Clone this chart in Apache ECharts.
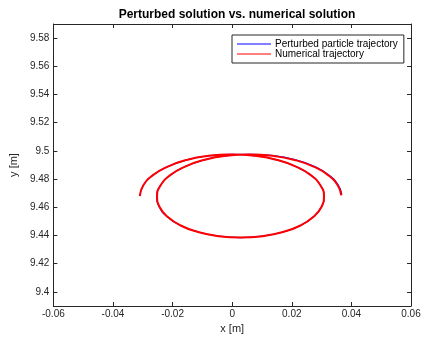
<!DOCTYPE html>
<html>
<head>
<meta charset="utf-8">
<script src="https://cdn.jsdelivr.net/npm/echarts@6/dist/echarts.min.js"></script>
<style>html,body{margin:0;padding:0;background:#fff;}#c{width:424px;height:341px;}</style>
</head>
<body>
<div id="c"></div>
<script>
var titleText = 'Perturbed solution vs. numerical solution';
var seriesNames = ['Perturbed particle trajectory', 'Numerical trajectory'];
var xTicks = [-0.06, -0.04, -0.02, 0, 0.02, 0.04, 0.06];
var yTicks = [9.4, 9.42, 9.44, 9.46, 9.48, 9.5, 9.52, 9.54, 9.56, 9.58];

// Numerical trajectory
var numX = [-0.0310, -0.0298, -0.0266, -0.0216, -0.0153, -0.0080, -0.0001, 0.0078, 0.0151, 0.0214, 0.0264, 0.0296, 0.0308,
            0.0300, 0.0273, 0.0229, 0.0171, 0.0102, 0.0028, -0.0046, -0.0115, -0.0173, -0.0217, -0.0244, -0.0252,
            -0.0240, -0.0208, -0.0158, -0.0095, -0.0022, 0.0057, 0.0136, 0.0209, 0.0273, 0.0322, 0.0354, 0.0366];
var numY = [9.4680, 9.4756, 9.4828, 9.4889, 9.4936, 9.4965, 9.4975, 9.4965, 9.4936, 9.4889, 9.4828, 9.4756, 9.4680,
            9.4604, 9.4533, 9.4471, 9.4425, 9.4395, 9.4385, 9.4395, 9.4425, 9.4471, 9.4533, 9.4604, 9.4680,
            9.4756, 9.4828, 9.4889, 9.4936, 9.4965, 9.4975, 9.4965, 9.4936, 9.4889, 9.4828, 9.4756, 9.4685];
// Perturbed solution (nearly identical)
var pertX = [-0.0310, -0.0298, -0.0266, -0.0216, -0.0153, -0.0080, -0.0001, 0.0078, 0.0151, 0.0214, 0.0264, 0.0296, 0.0308,
             0.0300, 0.0273, 0.0229, 0.0171, 0.0102, 0.0028, -0.0046, -0.0115, -0.0173, -0.0218, -0.0245, -0.0253,
             -0.0241, -0.0208, -0.0158, -0.0095, -0.0022, 0.0057, 0.0137, 0.0210, 0.0275, 0.0324, 0.0356, 0.0368];
var pertY = [9.4680, 9.4756, 9.4828, 9.4889, 9.4936, 9.4965, 9.4975, 9.4965, 9.4936, 9.4889, 9.4828, 9.4756, 9.4680,
             9.4604, 9.4533, 9.4471, 9.4425, 9.4395, 9.4385, 9.4395, 9.4425, 9.4471, 9.4533, 9.4604, 9.4680,
             9.4756, 9.4828, 9.4889, 9.4936, 9.4965, 9.4975, 9.4966, 9.4938, 9.4891, 9.4830, 9.4758, 9.4690];

function zip(a, b) { return a.map(function (v, i) { return [v, b[i]]; }); }
var axisColor = '#262626';
var font = 'Liberation Sans, Arial, Helvetica, sans-serif';
function fmt(v) { return String(parseFloat(Number(v).toFixed(4))); }

var chart = echarts.init(document.getElementById('c'), null, { renderer: 'canvas' });
var baseX = {
  type: 'value', min: -0.06, max: 0.06, interval: 0.02,
  axisLine: { show: true, onZero: false, lineStyle: { color: axisColor, width: 1 } },
  axisTick: { show: true, inside: true, length: 4, lineStyle: { color: axisColor } },
  splitLine: { show: false }
};
var baseY = {
  type: 'value', min: 9.39, max: 9.59,
  axisLine: { show: true, onZero: false, lineStyle: { color: axisColor, width: 1 } },
  axisTick: { show: true, inside: true, length: 4, customValues: yTicks, lineStyle: { color: axisColor } },
  splitLine: { show: false }
};
chart.setOption({
  animation: false,
  backgroundColor: '#fff',
  title: {
    text: titleText, left: 232, textAlign: 'center', top: 4,
    textStyle: { fontFamily: font, fontSize: 12, fontWeight: 'bold', color: '#000' }
  },
  legend: {
    orient: 'vertical', left: 232, top: 35,
    padding: [4, 6, 4, 5], itemGap: 0, itemWidth: 34, itemHeight: 10,
    borderColor: axisColor, borderWidth: 1, backgroundColor: '#fff',
    textStyle: { fontFamily: font, fontSize: 10, color: '#000', padding: [0, 0, 0, -1] },
    data: [
      { name: seriesNames[0], icon: 'path://M0,0L34,0L34,1L0,1Z', itemStyle: { color: '#0000ff' } },
      { name: seriesNames[1], icon: 'path://M0,0L34,0L34,1L0,1Z', itemStyle: { color: '#ff0000' } }
    ]
  },
  grid: { left: 53, right: 13, top: 24, bottom: 35, containLabel: false },
  xAxis: [
    Object.assign({}, baseX, {
      position: 'bottom', name: 'x [m]', nameLocation: 'middle', nameGap: 14,
      nameTextStyle: { fontFamily: font, fontSize: 11, color: axisColor },
      axisLabel: { margin: 3, fontFamily: font, fontSize: 10, color: axisColor, formatter: fmt, customValues: xTicks }
    }),
    Object.assign({}, baseX, { position: 'top', axisLabel: { show: false } })
  ],
  yAxis: [
    Object.assign({}, baseY, {
      position: 'left', name: 'y [m]', nameLocation: 'middle', nameGap: 29,
      nameTextStyle: { fontFamily: font, fontSize: 11, color: axisColor },
      axisLabel: { margin: 4, fontFamily: font, fontSize: 10, color: axisColor, formatter: fmt, customValues: yTicks }
    }),
    Object.assign({}, baseY, { position: 'right', axisLabel: { show: false } })
  ],
  series: [
    {
      name: seriesNames[0], type: 'line', data: zip(pertX, pertY), smooth: 0.5,
      showSymbol: false, symbol: 'none', color: '#0000ff',
      lineStyle: { color: '#0000ff', width: 1.2 }, xAxisIndex: 0, yAxisIndex: 0
    },
    {
      name: seriesNames[1], type: 'line', data: zip(numX, numY), smooth: 0.5,
      showSymbol: false, symbol: 'none', color: '#ff0000',
      lineStyle: { color: '#ff0000', width: 2 }, xAxisIndex: 0, yAxisIndex: 0
    }
  ]
});
</script>
</body>
</html>
